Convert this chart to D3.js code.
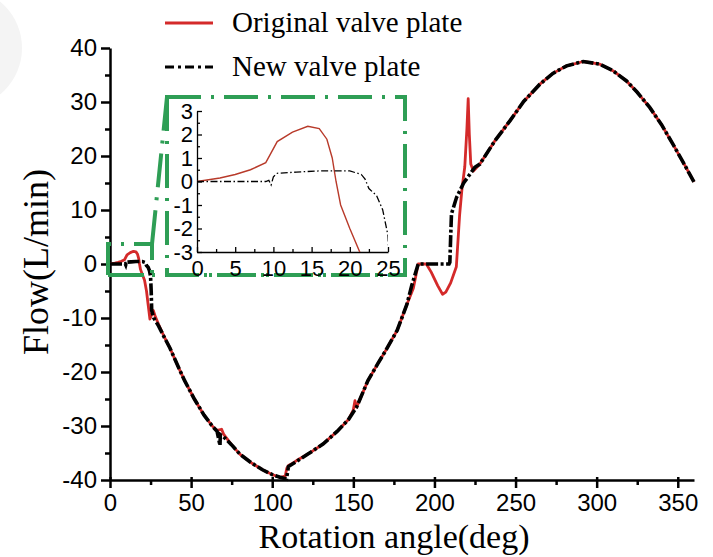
<!DOCTYPE html>
<html>
<head>
<meta charset="utf-8">
<script src="https://cdn.jsdelivr.net/npm/d3@7"></script>
<style>
  body { margin: 0; background: #fff; }
  .tick text { font-family: "Liberation Sans", Arial, sans-serif; fill: #000; }
</style>
</head>
<body>
<div id="chart"></div>
<script>
// Data (angle in deg, flow in L/min)
var origAngle = [0, 3, 5, 7, 9, 10.5, 12.5, 14.5, 16, 17, 17.7, 18.2, 18.8, 20, 21.3, 22.5, 23.5, 24.6, 25.5, 26.7, 28, 30, 33, 37, 42, 46, 52, 58, 63, 66, 68.8, 70, 75, 80, 87, 94, 100, 104.8, 108, 109, 110, 112, 115, 122, 131.5, 140, 147, 150, 151, 152, 159, 165, 170, 177, 183, 187, 190, 195, 198, 202, 205, 207, 210, 213.5, 215.5, 217, 218.7, 220, 220.8, 221.5, 222.4, 224, 228, 237, 246.5, 255, 265, 273, 281.5, 291.7, 302, 310, 318.4, 325, 332.7, 340, 347, 353, 360];
var origFlow  = [0, 0.15, 0.3, 0.5, 0.8, 1.7, 2.1, 2.35, 2.25, 1.8, 1.0, 0, -1, -2, -3, -5, -7.5, -10.2, -9.5, -8.6, -9.8, -11.2, -13.2, -15.6, -19, -21.6, -25, -28, -30, -30.8, -30.6, -31.5, -33.5, -35.2, -36.8, -38.1, -39, -39.5, -39.3, -37.8, -37.3, -37, -36.4, -35.2, -33.3, -31, -28.8, -27, -25.3, -26.5, -21.6, -18.5, -16, -12.3, -7.5, -4.5, 0, 0, -1.5, -4, -5.6, -5.2, -3.5, -0.5, 9, 14, 18, 25, 30.6, 24, 18.5, 17.2, 18.5, 22.7, 26.5, 30.1, 33.3, 35.3, 36.7, 37.5, 37, 35.8, 33.9, 31.8, 29, 25.8, 22.2, 19, 15.2];

var newAngle = [0, 9, 9.4, 9.7, 10, 10.5, 13, 16, 18, 20, 21.5, 22, 22.5, 23.5, 24.3, 25, 25.4, 25.7, 27, 30, 33, 37, 42, 46, 52, 58, 63, 66, 67.8, 68, 70, 75, 80, 87, 94, 100, 104.8, 108.8, 110, 113.7, 122, 131.5, 140, 147, 152, 159, 165, 170, 177, 183, 186, 190, 195, 200, 205, 209, 209.5, 210, 210.5, 213.6, 218, 224.9, 228, 237, 246.5, 255, 265, 273, 281.5, 291.7, 302, 310, 318.4, 325, 332.7, 340, 347, 353, 360];
var newFlow  = [0, 0, 0.05, -0.15, 0.2, 0.35, 0.4, 0.45, 0.45, 0.45, 0.3, 0.1, -0.3, -0.6, -1.2, -2.3, -5, -8.6, -10, -11.5, -13.3, -15.6, -19, -21.6, -25, -28, -30, -31, -33.6, -31.6, -32, -33.5, -35.2, -36.8, -38.1, -39, -39.5, -39.8, -37.5, -36.8, -35.2, -33.3, -31, -28.8, -26.5, -21.6, -18.5, -16, -12.3, -7.5, -4, 0, 0, 0, 0, 0, 0.3, 5, 9.3, 12.3, 15, 17.9, 18.5, 22.7, 26.5, 30.1, 33.3, 35.3, 36.7, 37.5, 37, 35.8, 33.9, 31.8, 29, 25.8, 22.2, 19, 15.2];

var xTicks = [0, 50, 100, 150, 200, 250, 300, 350];
var yTicks = [-40, -30, -20, -10, 0, 10, 20, 30, 40];
var insetXTicks = [0, 5, 10, 15, 20, 25];
var insetYTicks = [-3, -2, -1, 0, 1, 2, 3];
var seriesNames = ["Original valve plate", "New valve plate"];

var W = 713, H = 557;
var svg = d3.select("#chart").append("svg")
  .attr("width", W).attr("height", H)
  .style("display", "block");

svg.append("rect").attr("width", W).attr("height", H).attr("fill", "#fff");
// faint grey blob at the left edge of the photo
svg.append("circle").attr("cx", -38).attr("cy", 48).attr("r", 60).attr("fill", "#f4f4f4");

var x = d3.scaleLinear().domain([0, 360]).range([110, 694]);
var y = d3.scaleLinear().domain([-40, 40]).range([480, 48]);

var red = "#d42a2a", green = "#2e9e55";

function toPts(a, f) { return a.map(function(d, i) { return [d, f[i]]; }); }
var origData = toPts(origAngle, origFlow);
var newData = toPts(newAngle, newFlow);

// ---- main axes
var xAxis = svg.append("g")
  .attr("transform", "translate(0," + y(-40) + ")")
  .call(d3.axisBottom(x).tickValues(xTicks).tickSize(8).tickSizeOuter(0).tickPadding(6)
    .tickFormat(function(d) { return String(d); }));
xAxis.selectAll(".tick line").attr("y1", -3).attr("stroke-width", 2.5);
xAxis.selectAll(".tick text").style("font-size", "24px");
xAxis.select(".domain").attr("stroke-width", 2.5);
svg.append("g")
  .attr("transform", "translate(0," + y(-40) + ")")
  .call(d3.axisBottom(x).tickValues(d3.range(25, 360, 50)).tickSize(5).tickFormat(""))
  .call(function(g) { g.select(".domain").remove(); g.selectAll("line").attr("stroke-width", 2.5); });

var yAxis = svg.append("g")
  .attr("transform", "translate(" + x(0) + ",0)")
  .call(d3.axisLeft(y).tickValues(yTicks).tickSize(9).tickSizeOuter(0).tickPadding(4)
    .tickFormat(function(d) { return String(d); }));
yAxis.selectAll(".tick line").attr("stroke-width", 2.5);
yAxis.selectAll(".tick text").style("font-size", "24px");
yAxis.select(".domain").attr("stroke-width", 2.5);
svg.append("g")
  .attr("transform", "translate(" + x(0) + ",0)")
  .call(d3.axisLeft(y).tickValues(d3.range(-35, 40, 10)).tickSize(5).tickFormat(""))
  .call(function(g) { g.select(".domain").remove(); g.selectAll("line").attr("stroke-width", 2.5); });

// axis titles
svg.append("text")
  .attr("x", 394).attr("y", 548)
  .attr("text-anchor", "middle")
  .style("font-family", "'Liberation Serif', 'Times New Roman', serif")
  .style("font-size", "34px")
  .text("Rotation angle(deg)");
svg.append("text")
  .attr("transform", "translate(48,262) rotate(-90)")
  .attr("text-anchor", "middle")
  .style("font-family", "'Liberation Serif', 'Times New Roman', serif")
  .style("font-size", "36px")
  .text("Flow(L/min)");

// ---- main curves
var line = d3.line().x(function(d) { return x(d[0]); }).y(function(d) { return y(d[1]); });
svg.append("path").datum(origData)
  .attr("d", line).attr("fill", "none")
  .attr("stroke", red).attr("stroke-width", 2.8).attr("stroke-linejoin", "round");
svg.append("path").datum(newData)
  .attr("d", line).attr("fill", "none")
  .attr("stroke", "#000").attr("stroke-width", 3.6)
  .attr("stroke-dasharray", "12,2.5,3,2.5");

// ---- green zoom frame
var dash = "34,10,3,10";
var frame = svg.append("g").attr("fill", "none").attr("stroke", green)
  .attr("stroke-width", 4).attr("stroke-dasharray", dash);
frame.append("rect").attr("x", 167).attr("y", 97).attr("width", 405 - 167).attr("height", 275 - 97)
  .attr("fill", "#fff");
frame.append("path").attr("d", "M108,275 L108,244 L152,244 L152,275 Z");
frame.append("line").attr("x1", 152).attr("y1", 244).attr("x2", 167).attr("y2", 97);
frame.append("line").attr("x1", 108).attr("y1", 275).attr("x2", 405).attr("y2", 275);

// ---- inset
var xi = d3.scaleLinear().domain([0, 25]).range([197, 388]);
var yi = d3.scaleLinear().domain([-3, 3]).range([252, 111]);
svg.append("defs").append("clipPath").attr("id", "insetClip")
  .append("rect").attr("x", 197).attr("y", 108).attr("width", 191).attr("height", 144);

var ins = svg.append("g");
ins.append("g")
  .attr("transform", "translate(0," + yi(-3) + ")")
  .call(d3.axisBottom(xi).tickValues(insetXTicks).tickSize(-5).tickSizeOuter(0).tickPadding(8)
    .tickFormat(function(d) { return String(d); }));
ins.append("g")
  .attr("transform", "translate(0," + yi(-3) + ")")
  .call(d3.axisBottom(xi).tickValues(d3.range(2.5, 25, 5)).tickSize(-3).tickFormat(""))
  .call(function(g) { g.select(".domain").remove(); });
ins.append("g")
  .attr("transform", "translate(" + xi(0) + ",0)")
  .call(d3.axisLeft(yi).tickValues(insetYTicks).tickSize(-5).tickSizeOuter(0).tickPadding(4)
    .tickFormat(function(d) { return String(d); }));
ins.append("g")
  .attr("transform", "translate(" + xi(0) + ",0)")
  .call(d3.axisLeft(yi).tickValues(d3.range(-2.5, 3, 1)).tickSize(-3).tickFormat(""))
  .call(function(g) { g.select(".domain").remove(); });
ins.selectAll(".tick text").style("font-size", "22px");
ins.selectAll("line, path").attr("stroke-width", 1.3);

var lineI = d3.line().x(function(d) { return xi(d[0]); }).y(function(d) { return yi(d[1]); });
var insetCurves = ins.append("g").attr("clip-path", "url(#insetClip)");
insetCurves.append("path").datum(origData)
  .attr("d", lineI).attr("fill", "none")
  .attr("stroke", "#b83a2a").attr("stroke-width", 1.4);
insetCurves.append("path").datum(newData)
  .attr("d", lineI).attr("fill", "none")
  .attr("stroke", "#000").attr("stroke-width", 1.3)
  .attr("stroke-dasharray", "7,2.5,1.5,2.5");

// ---- legend
var legend = svg.append("g");
var legendStyles = [
  {stroke: red, width: 3, dash: null},
  {stroke: "#000", width: 3, dash: "9,4,3,4"}
];
seriesNames.forEach(function(name, i) {
  var ly = 23 + i * 44;
  legend.append("line")
    .attr("x1", 165).attr("x2", 213).attr("y1", ly).attr("y2", ly)
    .attr("stroke", legendStyles[i].stroke).attr("stroke-width", legendStyles[i].width)
    .attr("stroke-dasharray", legendStyles[i].dash);
  legend.append("text")
    .attr("x", 232).attr("y", ly + 9)
    .style("font-family", "'Liberation Serif', 'Times New Roman', serif")
    .style("font-size", "29px")
    .text(name);
});
</script>
</body>
</html>
